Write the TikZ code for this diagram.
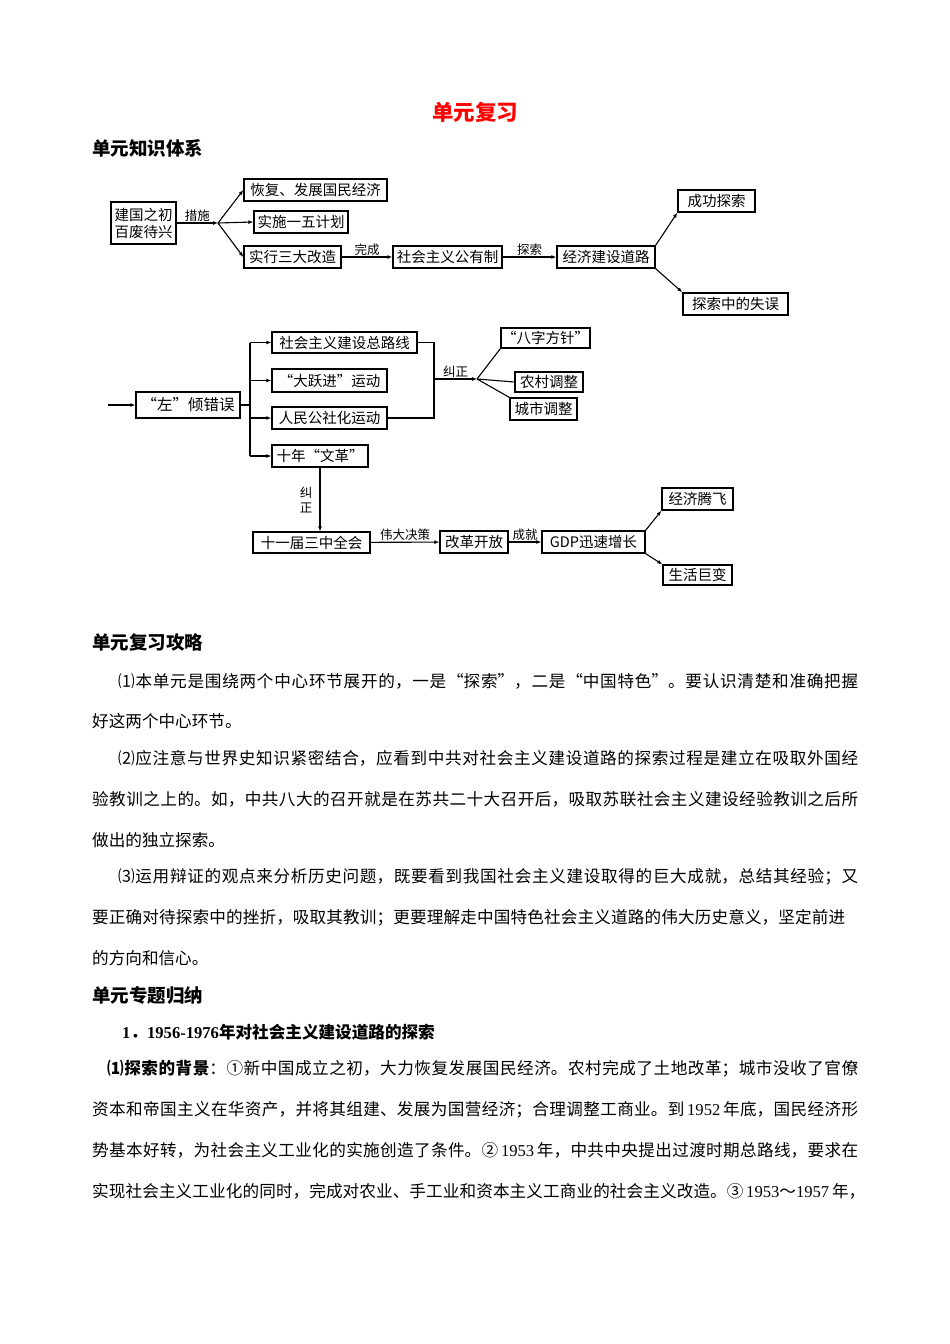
\documentclass[tikz,border=0pt]{standalone}
\usepackage{fontspec}
\setmainfont{Liberation Serif}
\newfontfamily\cjk{Noto Sans CJK SC}
\usetikzlibrary{arrows.meta,positioning}
\XeTeXlinebreaklocale "zh"
\XeTeXlinebreakskip=0pt plus 4pt
\definecolor{titlered}{HTML}{FF0000}
\newcommand{\fullline}[2]{\parbox[b]{#1}{\noindent\parfillskip=0pt\relax #2}}
\newcommand{\num}[1]{{\rmfamily #1}}
\tikzset{
  chartbox/.style={
    draw, line width=1.3pt, inner sep=1pt,
    minimum height=22pt, font=\cjk\fontsize{14.5}{17}\selectfont
  },
  flowarrow/.style={-{Latex[length=5pt,width=4pt]}, line width=1.1pt},
  flowline/.style={line width=1.1pt},
  steplabel/.style={font=\cjk\fontsize{12.5}{14}\selectfont, inner sep=1pt},
  heading/.style={anchor=base west, inner sep=0pt, font=\cjk\bfseries\fontsize{18.5}{20}\selectfont},
  bodyline/.style={anchor=base west, inner sep=0pt, font=\cjk\fontsize{16.6}{20}\selectfont},
}

\begin{document}
\begin{tikzpicture}[x=1pt, y=-1pt]
  \useasboundingbox (0,0) rectangle (950,1344);

  \node[font=\cjk\bfseries\fontsize{21.5}{24}\selectfont, text=titlered] (title) at (475,112) {单元复习};
  \node[heading] (h1) at (92,155) {单元知识体系};

  % upper chart
  \node[chartbox, minimum width=65pt, minimum height=42pt, align=center] (start) at (143.5,223) {建国之初\\百废待兴};
  \node[chartbox, minimum width=143pt] (rec) at (315.5,190) {恢复、发展国民经济};
  \node[chartbox, minimum width=94pt] (plan) at (301,222) {实施一五计划};
  \node[chartbox, minimum width=97pt] (trans) at (292.5,257) {实行三大改造};
  \node[chartbox, minimum width=109pt] (pub) at (447.5,257) {社会主义公有制};
  \node[chartbox, minimum width=98pt] (road) at (606,257) {经济建设道路};
  \node[chartbox, minimum width=77pt] (succ) at (716.5,201) {成功探索};
  \node[chartbox, minimum width=105pt] (fail) at (735.5,304) {探索中的失误};

  \coordinate (fork1) at (218,223);
  \draw[flowarrow] (start) -- (fork1) node[steplabel, midway, above] {措施};
  \foreach \b in {rec,plan,trans}
    \draw[flowarrow] (fork1) -- (\b.west);
  \draw[flowarrow] (trans) -- (pub) node[steplabel, midway, above] {完成};
  \draw[flowarrow] (pub) -- (road) node[steplabel, midway, above] {探索};
  \draw[flowarrow] (road.north east) -- (succ.south west);
  \draw[flowarrow] (road.south east) -- (fail.north west);

  % lower chart
  \node[chartbox, minimum width=104pt, minimum height=26pt, font=\cjk\fontsize{15.5}{18}\selectfont] (left) at (188,405) {“左”倾错误};
  \node[chartbox, minimum width=145pt, minimum height=21pt] (line) at (344.5,342.5) {社会主义建设总路线};
  \node[chartbox, minimum width=115pt, minimum height=23pt] (leap) at (329.5,380.5) {“大跃进”运动};
  \node[chartbox, minimum width=115pt] (commune) at (329.5,418) {人民公社化运动};
  \node[chartbox, minimum width=96pt] (cult) at (320,456) {十年“文革”};
  \node[chartbox, minimum width=85pt, minimum height=20pt] (eight) at (545.5,338) {“八字方针”};
  \node[chartbox, minimum width=68pt, minimum height=20pt] (rural) at (549,382) {农村调整};
  \node[chartbox, minimum width=67pt] (urban) at (543.5,409) {城市调整};
  \node[chartbox, minimum width=117pt, minimum height=21pt] (plenum) at (311.5,542.5) {十一届三中全会};
  \node[chartbox, minimum width=68pt] (reform) at (474,542) {改革开放};
  \node[chartbox, minimum width=103pt] (gdp) at (593.5,542) {GDP迅速增长};
  \node[chartbox, minimum width=71pt] (boom) at (697.5,499) {经济腾飞};
  \node[chartbox, minimum width=69pt, minimum height=20pt] (life) at (697.5,575) {生活巨变};

  \coordinate (entry) at (108,405);
  \coordinate (bus) at (250,405);
  \coordinate (merge) at (434,379);
  \coordinate (fork2) at (477,379);
  \draw[flowarrow] (entry) -- (left);
  \draw[flowline] (left) -- (bus);
  \draw[flowline] (bus |- line) -- (bus |- cult);
  \foreach \b in {line,leap,commune,cult}
    \draw[flowarrow] (bus |- \b) -- (\b);
  \draw[flowline] (line) -- (merge |- line) -- (merge |- commune) -- (commune);
  \draw[flowarrow] (merge) -- (fork2) node[steplabel, midway, above] {纠正};
  \draw[flowline] (fork2) -- (eight.south west);
  \draw[flowline] (fork2) -- (rural.west);
  \draw[flowline] (fork2) -- (urban.north west);
  \draw[flowarrow] (cult.south) -- (cult.south |- plenum.north)
    node[steplabel, midway, left=6pt, align=center, font=\cjk\fontsize{12.5}{15}\selectfont] {纠\\正};
  \draw[flowarrow] (plenum) -- (reform) node[steplabel, midway, above] {伟大决策};
  \draw[flowarrow] (reform) -- (gdp) node[steplabel, midway, above] {成就};
  \draw[flowarrow] (gdp.north east) -- (boom.south west);
  \draw[flowarrow] (gdp.south east) -- (life.north west);

  % review text
  \node[heading] (h2) at (92,649) {单元复习攻略};
  \node[bodyline] (p1a) at (118,687.5) {\fullline{740pt}{⑴本单元是围绕两个中心环节展开的，一是“探索”，二是“中国特色”。要认识清楚和准确把握}};
  \node[bodyline] (p1b) at (92,727.5) {好这两个中心环节。};
  \node[bodyline] (p2a) at (118,764.5) {\fullline{740pt}{⑵应注意与世界史知识紧密结合，应看到中共对社会主义建设道路的探索过程是建立在吸取外国经}};
  \node[bodyline] (p2b) at (92,805.5) {\fullline{766pt}{验教训之上的。如，中共八大的召开就是在苏共二十大召开后，吸取苏联社会主义建设经验教训之后所}};
  \node[bodyline] (p2c) at (92,846.5) {做出的独立探索。};
  \node[bodyline] (p3a) at (118,882.5) {\fullline{740pt}{⑶运用辩证的观点来分析历史问题，既要看到我国社会主义建设取得的巨大成就，总结其经验；又}};
  \node[bodyline] (p3b) at (92,923.5) {\fullline{753pt}{要正确对待探索中的挫折，吸取其教训；更要理解走中国特色社会主义道路的伟大历史意义，坚定前进}};
  \node[bodyline] (p3c) at (92,964.5) {的方向和信心。};

  \node[heading] (h3) at (92,1002) {单元专题归纳};
  \node[bodyline, font=\cjk\bfseries\fontsize{16.6}{20}\selectfont] (topic) at (122,1038.5) {\num{\bfseries 1}．\num{\bfseries 1956-1976}年对社会主义建设道路的探索};
  \node[bodyline] (s1a) at (107,1074.5) {\fullline{751pt}{{\bfseries ⑴探索的背景}：①新中国成立之初，大力恢复发展国民经济。农村完成了土地改革；城市没收了官僚}};
  \node[bodyline] (s1b) at (92,1115.5) {\fullline{766pt}{资本和帝国主义在华资产，并将其组建、发展为国营经济；合理调整工商业。到\,\num{1952}\,年底，国民经济形}};
  \node[bodyline] (s1c) at (92,1156.5) {\fullline{766pt}{势基本好转，为社会主义工业化的实施创造了条件。②\,\num{1953}\,年，中共中央提出过渡时期总路线，要求在}};
  \node[bodyline] (s1d) at (92,1197.5) {\fullline{773pt}{实现社会主义工业化的同时，完成对农业、手工业和资本主义工商业的社会主义改造。③\,\num{1953}～\num{1957}\,年，}};
\end{tikzpicture}
\end{document}
